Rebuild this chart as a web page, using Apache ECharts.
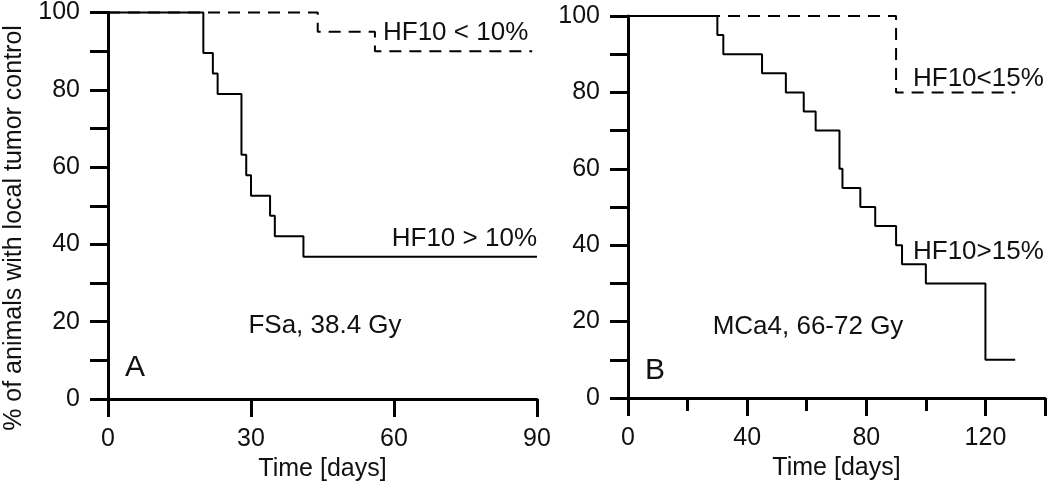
<!DOCTYPE html>
<html>
<head>
<meta charset="utf-8">
<script src="https://cdn.jsdelivr.net/npm/echarts@6/dist/echarts.min.js"></script>
<style>
  html, body { margin: 0; padding: 0; background: #fff; }
  #chart { width: 1050px; height: 487px; }
</style>
</head>
<body>
<div id="chart"></div>
<script>
// panel A: FSa, 38.4 Gy
const fsaHighDays = [0, 20, 22, 23, 28, 29, 30, 34, 35, 41, 90];
const fsaHighPct = [100, 89.5, 84.2, 78.9, 63.2, 57.9, 52.6, 47.4, 42.1, 36.8, 36.8];
const fsaLowDays = [0, 44, 56, 89];
const fsaLowPct = [100, 95, 90, 90];

// panel B: MCa4, 66-72 Gy
const mcaHighDays = [0, 30, 32, 45, 53, 59, 63, 71, 72, 78, 83, 90, 92, 100, 120, 130];
const mcaHighPct = [100, 95, 90, 85, 80, 75, 70, 60, 55, 50, 45, 40, 35, 30, 10, 10];
const mcaLowDays = [0, 90, 130];
const mcaLowPct = [100, 80, 80];

const FONT = "'Liberation Sans', Arial, sans-serif";

function pairs(xs, ys) {
  return xs.map((x, i) => [x, ys[i]]);
}

let myChart = echarts.init(document.getElementById("chart"));

function xAxisOf(idx, max, interval, minor) {
  return {
    type: "value",
    gridIndex: idx,
    min: 0,
    max: max,
    interval: interval,
    name: "Time [days]",
    nameLocation: "middle",
    nameGap: 58,
    nameTextStyle: { color: "#111", fontSize: 25, fontFamily: FONT },
    axisLine: { show: true, onZero: false, lineStyle: { color: "#000", width: 3 } },
    axisTick: { show: true, inside: false, length: 18, lineStyle: { color: "#000", width: 3 } },
    minorTick: { show: minor, splitNumber: 2, length: 13, lineStyle: { color: "#000", width: 3 } },
    splitLine: { show: false },
    axisLabel: { color: "#111", fontSize: 25, fontFamily: FONT, margin: 28, showMaxLabel: !minor },
  };
}

function yAxisOf(idx) {
  return {
    type: "value",
    gridIndex: idx,
    min: 0,
    max: 100,
    interval: 20,
    axisLine: { show: true, onZero: false, lineStyle: { color: "#000", width: 3 } },
    axisTick: { show: true, inside: false, length: 18, lineStyle: { color: "#000", width: 3 } },
    minorTick: { show: true, splitNumber: 2, length: 18, lineStyle: { color: "#000", width: 3 } },
    splitLine: { show: false },
    axisLabel: { color: "#111", fontSize: 25, fontFamily: FONT, margin: 28 },
  };
}

function stepSeries(idx, xs, ys, dashed) {
  return {
    type: "line",
    xAxisIndex: idx,
    yAxisIndex: idx,
    step: "end",
    showSymbol: false,
    clip: false,
    animation: false,
    lineStyle: { color: "#000", width: 2, type: dashed ? [12, 8] : "solid" },
    data: pairs(xs, ys),
  };
}

function txt(x, y, text, size, align) {
  return {
    type: "text",
    x: x,
    y: y,
    style: {
      text: text,
      fill: "#111",
      font: size + "px " + FONT,
      align: align || "left",
      verticalAlign: "middle",
    },
  };
}

let option = {
  animation: false,
  grid: [
    { left: 108, top: 12, width: 429, height: 388 },
    { left: 628, top: 16, width: 417, height: 382 },
  ],
  xAxis: [xAxisOf(0, 90, 30, false), xAxisOf(1, 140, 40, true)],
  yAxis: [yAxisOf(0), yAxisOf(1)],
  series: [
    stepSeries(0, fsaHighDays, fsaHighPct, false),
    stepSeries(0, fsaLowDays, fsaLowPct, true),
    stepSeries(1, mcaHighDays, mcaHighPct, false),
    stepSeries(1, mcaLowDays, mcaLowPct, true),
  ],
  graphic: [
    {
      type: "text",
      x: 14,
      y: 228,
      rotation: Math.PI / 2,
      style: {
        text: "% of animals with local tumor control",
        fill: "#111",
        font: "25px " + FONT,
        align: "center",
        verticalAlign: "middle",
      },
    },
    txt(383, 33, "HF10 < 10%", 26),
    txt(537, 239, "HF10 > 10%", 26, "right"),
    txt(325, 326, "FSa, 38.4 Gy", 26, "center"),
    txt(125, 368, "A", 30),
    txt(913, 79, "HF10<15%", 26),
    txt(913, 252, "HF10>15%", 26),
    txt(808, 327, "MCa4, 66-72 Gy", 26, "center"),
    txt(645, 371, "B", 30),
  ],
};

myChart.setOption(option);
</script>
</body>
</html>
